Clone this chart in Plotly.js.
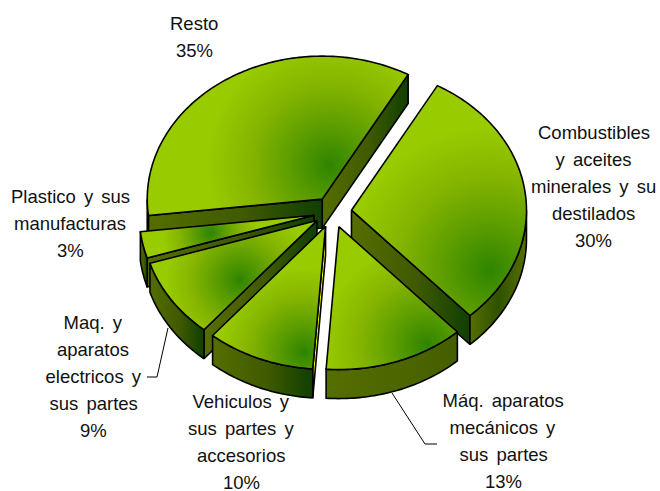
<!DOCTYPE html>
<html><head><meta charset="utf-8">
<script src="https://cdn.plot.ly/plotly-3.0.1.min.js"></script>
<style>html,body{margin:0;padding:0;background:#fff}#c{width:660px;height:491px}</style>
</head><body><div id="c"></div>
<script>
// --- data ---
const sliceNames = ['Resto','Combustibles','Aparatos','Vehiculos','Electricos','Plastico'];
const sliceValues = [35,30,13,10,9,3];
const labelLines = [
  ['Resto'],
  ['Combustibles','y aceites','minerales y su','destilados'],
  ['Máq. aparatos','mecánicos y','sus partes'],
  ['Vehiculos y','sus partes y','accesorios'],
  ['Maq. y','aparatos','electricos y','sus partes'],
  ['Plastico y sus','manufacturas']
];
const labelCx = [194,593.5,503,241,93,70];
const labelTop = [23,132,400,401,322,196];
const glowX = [330,490,427,304,240,210];
const glowY = [165,270,345,352,280,233];
const glowR = [125,145,105,85,75,48];
const drawOrder = [0,1,5,4,3,2];
// --- geometry ---
const cx=332.7, cy=212, rx=175, ry=143, depth=29, explode=0.108, startDeg=263.4;
const rad=d=>d*Math.PI/180;
const total=sliceValues.reduce((a,b)=>a+b,0);
let acc=startDeg;
const slices=sliceValues.map((v,i)=>{
  const a1=acc,a2=acc+v/total*360; acc=a2>=360&&i===0?a2-360:a2;
  const m=rad((a1+a2)/2);
  return {i,a1,a2,ax:cx+explode*rx*Math.sin(m),ay:cy-explode*ry*Math.cos(m)};
});
const pt=(s,a,dz=0)=>[s.ax+rx*Math.sin(rad(a)),s.ay-ry*Math.cos(rad(a))+dz];
function arc(s,a,b,dz=0){const n=Math.max(2,Math.ceil(Math.abs(b-a)));const o=[];
  for(let k=0;k<=n;k++)o.push(pt(s,a+(b-a)*k/n,dz));return o;}
const WALL=[[0,'#556e00'],[0.55,'#3f5a00'],[1,'#0f3f00']];
const WALL2=[[0,'#566f00'],[0.5,'#2f5200'],[1,'#566f00']];
const YEL=[[0,'#ffff00'],[1,'#ffff00']];
const TOP=[[0,'#2f8500'],[0.3,'#5a9c00'],[0.65,'#85b500'],[1,'#99cc00']];
function poly(pts,grad){
  return {type:'scatter',mode:'lines',x:pts.map(p=>p[0]).concat(pts[0][0]),y:pts.map(p=>p[1]).concat(pts[0][1]),
    fill:'toself',fillgradient:grad,line:{color:'#000',width:1.6,shape:'linear',simplify:false},hoverinfo:'skip',showlegend:false};
}
const traces=[],topIdx=[];
drawOrder.forEach(id=>{
  const s=slices[id];
  const apex=[s.ax,s.ay],apexD=[s.ax,s.ay+depth];
  const face=a=>{const e=pt(s,a),d=pt(s,a,depth);return [apex,e,d,apexD];};
  if(Math.sin(rad(s.a2))>0) traces.push(poly(face(s.a2),{type:'horizontal',colorscale:WALL}));
  if(Math.sin(rad(s.a1))<0) traces.push(poly(face(s.a1),{type:'horizontal',colorscale:id===3?YEL:WALL}));
  const lo=Math.max(s.a1,90),hi=Math.min(s.a2,270);
  if(hi>lo){
    const w=arc(s,lo,hi).concat(arc(s,hi,lo,depth));
    traces.push(poly(w,{type:'horizontal',colorscale:id===1?WALL2:(id===2?[[0,'#556e00'],[1,'#455f00']]:WALL)}));
  }
  topIdx.push([traces.length,id]);
  traces.push(poly([apex].concat(arc(s,s.a1,s.a2)),{type:'radial',colorscale:TOP}));
});
// --- labels ---
const fnt={family:'"Liberation Sans",Arial,sans-serif',size:18.5,color:'#111'};
const ann=[];
labelLines.forEach((lines,i)=>{
  lines.concat(sliceValues[i]+'%').forEach((t,k)=>{
    ann.push({xref:'x',yref:'y',x:labelCx[i],y:labelTop[i]+k*27,text:t,showarrow:false,
      xanchor:'center',yanchor:'middle',font:fnt});
  });
});
const leader={type:'path',xref:'x',yref:'y',line:{color:'#000',width:1}};
const layout={width:660,height:491,margin:{l:0,r:0,t:0,b:0},paper_bgcolor:'#fff',plot_bgcolor:'#fff',showlegend:false,
  xaxis:{range:[0,660],visible:false,fixedrange:true},
  yaxis:{range:[491,0],visible:false,fixedrange:true},
  annotations:ann,
  shapes:[
    Object.assign({path:'M392,393 L425,444 L437,444'},leader),
    Object.assign({path:'M168,328 L157,377 L147,377'},leader)
  ]};
Plotly.newPlot('c',traces,layout,{staticPlot:true,displayModeBar:false}).then(()=>{
  const groups=document.querySelectorAll('.scatterlayer .trace');
  topIdx.forEach(([t,id])=>{
    const f=groups[t].querySelector('.js-fill');
    if(!f)return;
    const m=(f.style.fill||f.getAttribute('fill')||'').match(/#([^"')]+)/);
    if(!m)return;
    const g=document.getElementById(m[1]);
    if(!g)return;
    g.setAttribute('gradientUnits','userSpaceOnUse');
    g.setAttribute('cx',glowX[id]);g.setAttribute('cy',glowY[id]);g.setAttribute('r',glowR[id]);
  });
  document.querySelectorAll('.annotation-text').forEach(e=>{e.style.wordSpacing='3px';});
});
</script></body></html>
